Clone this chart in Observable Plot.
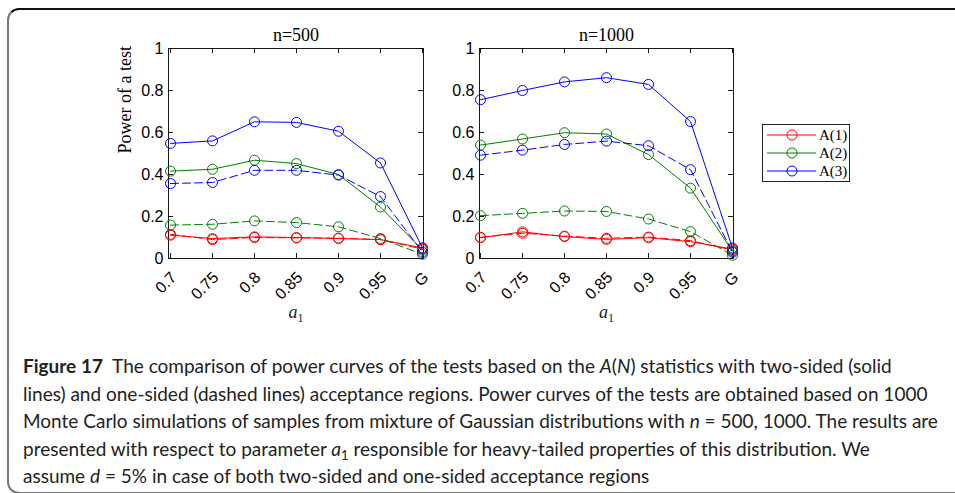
<!DOCTYPE html>
<html><head><meta charset="utf-8">
<script src="https://cdn.jsdelivr.net/npm/d3@7"></script>
<script src="https://cdn.jsdelivr.net/npm/@observablehq/plot@0.6"></script>
<style>
body{margin:0;background:#fff;width:955px;height:493px;overflow:hidden;position:relative;}
#frame{position:absolute;left:7px;top:8px;width:990px;height:486px;border:2px solid #777;border-top-color:#111;border-radius:12px;box-sizing:border-box;}
.panel{position:absolute;left:0;top:0;}
#legend{position:absolute;left:762px;top:124px;width:88px;height:58px;border:1px solid #222;box-sizing:border-box;background:#fff}
#caption{position:absolute;left:23px;top:352px;font-family:Lato,sans-serif;font-size:19px;line-height:27.5px;color:#222;white-space:nowrap}
#caption b{font-weight:700}
#caption .sub{position:relative;top:4px;font-size:13px;line-height:0}
</style>
</head><body>
<div id="frame"></div>
<div id="p1" class="panel"></div>
<div id="p2" class="panel"></div>
<div id="legend"></div>
<div id="caption"><b>Figure 17</b>&nbsp; The comparison of power curves of the tests based on the <i>A</i>(<i>N</i>) statistics with two-sided (solid<br>lines) and one-sided (dashed lines) acceptance regions. Power curves of the tests are obtained based on 1000<br>Monte Carlo simulations of samples from mixture of Gaussian distributions with <i>n</i> = 500, 1000. The results are<br>presented with respect to parameter <i>a</i><span class="sub">1</span> responsible for heavy-tailed properties of this distribution. We<br>assume <i>d</i> = 5% in case of both two-sided and one-sided acceptance regions</div>
<script>
const categories = ["0.7","0.75","0.8","0.85","0.9","0.95","G"];
const tests = ["A(1)","A(2)","A(3)"];
const colors = ["#ff0000","#008000","#0000ff"];
const yTicks = [0,0.2,0.4,0.6,0.8,1];
const yTickLabels = ["0","0.2","0.4","0.6","0.8","1"];
const panelTitles = ["n=500","n=1000"];

// n = 500 : two-sided (solid) and one-sided (dashed)
const n500_A1_two = [0.111,0.095,0.103,0.100,0.095,0.090,0.050];
const n500_A2_two = [0.416,0.425,0.468,0.452,0.400,0.245,0.040];
const n500_A3_two = [0.548,0.560,0.651,0.648,0.606,0.455,0.050];
const n500_A1_one = [0.115,0.090,0.100,0.098,0.097,0.090,0.045];
const n500_A2_one = [0.159,0.163,0.179,0.171,0.151,0.095,0.020];
const n500_A3_one = [0.357,0.362,0.420,0.420,0.397,0.295,0.030];

// n = 1000
const n1000_A1_two = [0.099,0.127,0.104,0.091,0.099,0.080,0.045];
const n1000_A2_two = [0.540,0.569,0.599,0.593,0.495,0.335,0.035];
const n1000_A3_two = [0.756,0.800,0.841,0.861,0.829,0.652,0.050];
const n1000_A1_one = [0.101,0.120,0.107,0.096,0.102,0.085,0.040];
const n1000_A2_one = [0.204,0.215,0.226,0.224,0.188,0.128,0.015];
const n1000_A3_one = [0.492,0.516,0.543,0.559,0.537,0.423,0.030];

function toRows(test, vals){ return vals.map((v,i)=>({a:categories[i], v, test})); }

function panel(title, two, one, left, right, showYLabel){
  const W = 955, H = 340, top = 48, bottom = 258;
  const pw = right - left, ph = bottom - top;
  const marks = [
    Plot.frame({stroke:"#000", strokeWidth:0.9}),
    Plot.tickY(yTicks, {y:d=>d, insetRight: pw-5, stroke:"#000", strokeWidth:0.9}),
    Plot.tickY(yTicks, {y:d=>d, insetLeft: pw-5, stroke:"#000", strokeWidth:0.9}),
    Plot.tickX(categories, {x:d=>d, insetTop: ph-5, stroke:"#000", strokeWidth:0.9}),
    Plot.tickX(categories, {x:d=>d, insetBottom: ph-5, stroke:"#000", strokeWidth:0.9}),
    Plot.text(yTicks, {y:d=>d, text:(d,i)=>yTickLabels[i], frameAnchor:"left", textAnchor:"end", dx:-5, fontSize:16, fontFamily:"Liberation Sans", fill:"#000"}),
    Plot.text(categories, {x:d=>d, text:d=>d, frameAnchor:"bottom", rotate:-45, textAnchor:"end", dx:7, dy:20, fontSize:16, fontFamily:"Liberation Sans", fill:"#000"}),
    Plot.text([title], {text:d=>d, frameAnchor:"top", lineAnchor:"middle", dy:-13, fontFamily:"Liberation Serif", fontSize:18, fill:"#000"}),
    Plot.text(["a1"], {text:d=>d, frameAnchor:"bottom", lineAnchor:"middle", dy:54, fontFamily:"Liberation Serif", fontSize:18, fill:"#222", className:"xlab"})
  ];
  if (showYLabel) marks.push(Plot.text(["Power of a test"], {text:d=>d, frameAnchor:"left", dx:-43, rotate:-90, fontFamily:"Liberation Serif", fontSize:18, fill:"#000"}));
  tests.forEach((t,k)=>{
    const rows = toRows(t, two[k]);
    marks.push(Plot.line(rows, {x:"a", y:"v", stroke:"test", strokeWidth:1}));
    marks.push(Plot.dot(rows, {x:"a", y:"v", stroke:"test", r:5, strokeWidth:1}));
  });
  tests.forEach((t,k)=>{
    const rows = toRows(t, one[k]);
    marks.push(Plot.line(rows, {x:"a", y:"v", stroke:"test", strokeWidth:1, strokeDasharray:"8,4"}));
    marks.push(Plot.dot(rows, {x:"a", y:"v", stroke:"test", r:5, strokeWidth:1}));
  });
  const svg = Plot.plot({
    width: W, height: H,
    marginLeft: left, marginRight: W-right, marginTop: top, marginBottom: H-bottom,
    x: {type:"point", domain: categories, padding: 0, axis: null},
    y: {domain:[0,1], axis: null},
    color: {domain: tests, range: colors},
    style: {background:"transparent", overflow:"visible"},
    marks
  });
  d3.select(svg).selectAll("g.xlab text").each(function(){
    const t = d3.select(this);
    t.text(null);
    t.append("tspan").attr("font-style","italic").text("a");
    t.append("tspan").attr("font-size","12").attr("dy","4").text("1");
  });
  return svg;
}

document.getElementById("p1").appendChild(panel(panelTitles[0], [n500_A1_two,n500_A2_two,n500_A3_two], [n500_A1_one,n500_A2_one,n500_A3_one], 168, 423, true));
document.getElementById("p2").appendChild(panel(panelTitles[1], [n1000_A1_two,n1000_A2_two,n1000_A3_two], [n1000_A1_one,n1000_A2_one,n1000_A3_one], 479, 733, false));

// legend
const leg = d3.select("#legend").append("svg").attr("width",86).attr("height",56);
tests.forEach((t,i)=>{
  const y = 10 + 18*i;
  leg.append("line").attr("x1",4).attr("x2",53).attr("y1",y).attr("y2",y).attr("stroke",colors[i]).attr("stroke-width",1);
  leg.append("circle").attr("cx",29).attr("cy",y).attr("r",5).attr("fill","none").attr("stroke",colors[i]).attr("stroke-width",1);
  leg.append("text").attr("x",56).attr("y",y+5).attr("font-family","Liberation Serif").attr("font-size",15).attr("fill","#000").text(t);
});
</script>
</body></html>
